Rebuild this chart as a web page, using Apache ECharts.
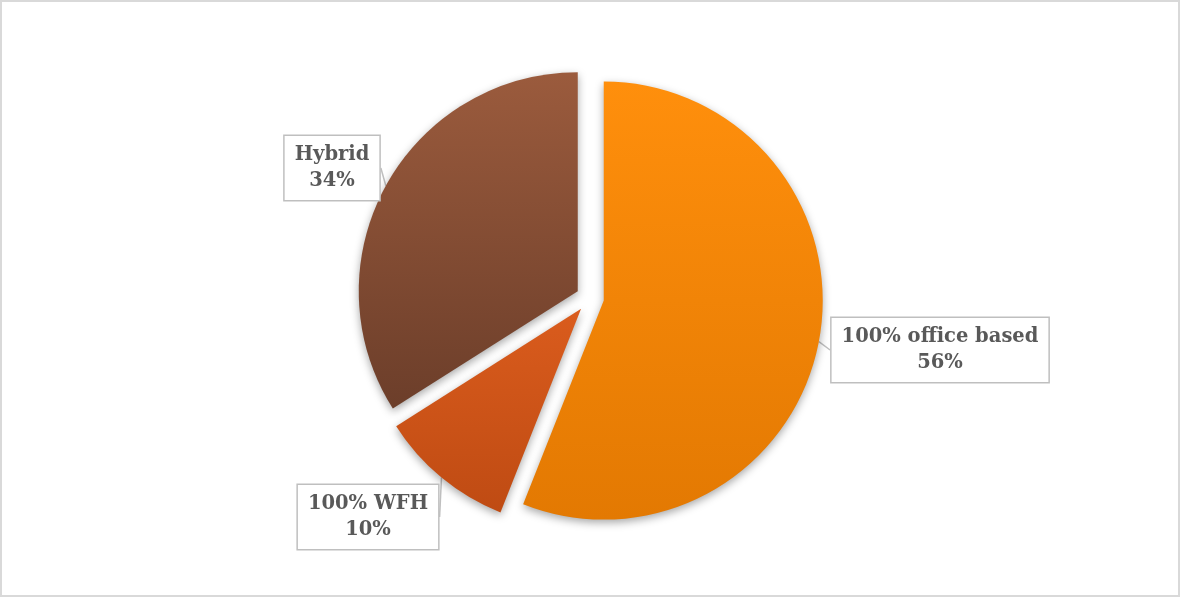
<!DOCTYPE html>
<html>
<head>
<meta charset="utf-8">
<script src="https://cdn.jsdelivr.net/npm/echarts@6/dist/echarts.min.js"></script>
<style>
  html, body { margin: 0; padding: 0; background: #fff; }
  #chart { width: 1180px; height: 597px; box-sizing: border-box; border: 2px solid #d9d9d9; }
</style>
</head>
<body>
<div id="chart"></div>
<script>
// Work arrangement shares (%)
const categories = ['100% office based', '100% WFH', 'Hybrid'];
const shares = [56, 10, 34];

// Slice fills: top colour, bottom colour
const sliceColors = [
  ['#ff8f0c', '#e37902'],
  ['#da5c1d', '#bf4b13'],
  ['#9b5b3d', '#6c3e2a']
];

// Callout box centres, one per slice
const calloutCentres = [[938, 348], [366, 515], [330, 166]];

const PIE_CENTRE = [588, 296];
const PIE_RADIUS = 219;
const EXPLODE = 14;

function fill(pair) {
  return new echarts.graphic.LinearGradient(0, 0, 0, 1, [
    { offset: 0, color: pair[0] },
    { offset: 1, color: pair[1] }
  ]);
}

const total = shares.reduce((a, b) => a + b, 0);

// One pie layer per slice: the layer shows only its own slice and is
// shifted outward along that slice's bisector, giving the exploded look.
const series = categories.map((_, k) => {
  const before = shares.slice(0, k).reduce((a, b) => a + b, 0);
  const midDeg = 90 - (before + shares[k] / 2) / total * 360;
  const rad = midDeg * Math.PI / 180;
  const centre = [
    PIE_CENTRE[0] + Math.cos(rad) * EXPLODE,
    PIE_CENTRE[1] - Math.sin(rad) * EXPLODE
  ];
  return {
    type: 'pie',
    center: centre,
    radius: PIE_RADIUS,
    startAngle: 90,
    clockwise: true,
    emphasis: { disabled: true },
    label: {
      show: true,
      position: 'outside',
      formatter: p => '{t|' + p.name + '}\n{t|' + p.value + '%}',
      backgroundColor: '#ffffff',
      borderColor: '#bfbfbf',
      borderWidth: 1.5,
      padding: [6, 10],
      rich: {
        t: {
          align: 'center',
          fontFamily: 'DejaVu Serif',
          fontWeight: 'bold',
          fontSize: 19.5,
          lineHeight: 26,
          color: '#595959'
        }
      }
    },
    labelLine: {
      show: true,
      length: 6,
      length2: 0,
      smooth: false,
      lineStyle: { color: '#bfbfbf', width: 1.5 }
    },
    labelLayout: p => ({
      x: calloutCentres[p.dataIndex][0],
      y: calloutCentres[p.dataIndex][1],
      align: 'center',
      verticalAlign: 'middle'
    }),
    data: categories.map((name, i) => {
      const own = i === k;
      return {
        name: name,
        value: shares[i],
        silent: !own,
        itemStyle: own ? {
          color: fill(sliceColors[i]),
          shadowBlur: 8,
          shadowColor: 'rgba(0,0,0,0.35)',
          shadowOffsetY: 3
        } : { color: 'rgba(0,0,0,0)' },
        label: { show: own },
        labelLine: { show: own }
      };
    })
  };
});

const chart = echarts.init(document.getElementById('chart'), null, { renderer: 'canvas' });
chart.setOption({ animation: false, series: series });
</script>
</body>
</html>
